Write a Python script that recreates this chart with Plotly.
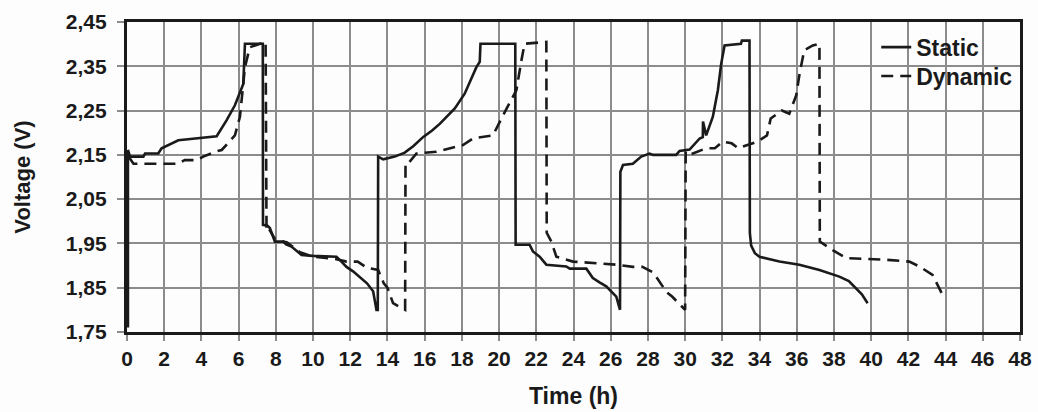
import plotly.graph_objects as go

# ---- data ----
static_t = [0.05, 0.05, 0.16, 0.88, 0.97, 1.68, 1.86, 2.22, 2.76, 4.82, 5.35, 5.8, 6.07, 6.25, 6.34,
            7.30, 7.31, 7.55, 7.68, 7.95, 8.4, 8.55, 8.84, 9.1, 9.38, 10.0, 10.6, 11.26, 11.5, 11.8, 12.15, 12.69,
            12.9, 13.23, 13.41, 13.48, 13.5, 13.77, 14.39, 14.93, 15.4, 15.91, 16.4, 16.81, 17.62,
            18.15, 18.78, 18.96, 19.0, 20.87, 20.89, 21.64, 21.82, 22.18, 22.54, 23.61, 23.8,
            24.69, 25.04, 25.4, 25.76, 26.3, 26.46, 26.5, 26.52, 26.66, 27.19, 27.64, 28.09, 28.27,
            29.52, 29.7, 30.24, 30.78, 30.95, 30.96, 31.13, 31.49, 31.76, 31.94, 32.12, 33.0, 33.05, 33.46,
            33.48, 33.55, 33.75, 34.0, 35.07, 36.14, 37.22, 38.29, 38.8, 39.19, 39.5, 39.81]
static_v = [1.76, 2.161, 2.146, 2.146, 2.153, 2.153, 2.165, 2.172, 2.183, 2.192, 2.228, 2.262, 2.29, 2.31, 2.401,
            2.401, 1.992, 1.99, 1.985, 1.954, 1.954, 1.948, 1.943, 1.933, 1.924, 1.922, 1.921, 1.92, 1.91, 1.897, 1.887, 1.868,
            1.86, 1.842, 1.80, 1.80, 2.146, 2.14, 2.146, 2.155, 2.17, 2.19, 2.205, 2.22, 2.255,
            2.288, 2.348, 2.36, 2.401, 2.401, 1.947, 1.947, 1.932, 1.92, 1.902, 1.898, 1.893,
            1.893, 1.872, 1.862, 1.853, 1.83, 1.80, 1.80, 2.112, 2.127, 2.13, 2.146, 2.153, 2.15,
            2.15, 2.159, 2.162, 2.187, 2.19, 2.225, 2.194, 2.236, 2.296, 2.356, 2.397, 2.401, 2.408, 2.408,
            1.973, 1.945, 1.928, 1.92, 1.909, 1.902, 1.89, 1.875, 1.865, 1.849, 1.835, 1.815]

dynamic_t = [0.1, 0.35, 1.06, 2.1, 2.75, 3.1, 3.74, 4.1, 4.73, 5.09, 5.53, 5.8, 6.07, 6.34, 6.6,
             7.45, 7.5, 7.6, 7.95, 8.6, 9.3, 10.0, 11.2, 11.8, 12.4, 12.9, 13.5, 13.8, 14.0, 14.3, 14.95,
             14.97, 15.1, 15.56, 16.63, 18.06, 18.6, 19.67, 20.21, 20.93, 21.2, 21.37, 22.54,
             22.56, 22.81, 23.08, 23.97, 26.3, 27.2, 27.7, 28.3, 28.6, 29.0, 29.3, 30.0,
             30.03, 30.24, 31.13, 31.6, 32.02, 32.5, 32.85, 33.3, 33.9, 34.4, 34.6, 35.2, 35.6,
             35.97, 36.14, 36.4, 36.86, 37.22, 37.24, 37.93, 38.65, 40.8, 42.05, 42.59, 43.3, 43.93]
dynamic_v = [2.145, 2.13, 2.13, 2.13, 2.13, 2.138, 2.138, 2.146, 2.157, 2.161, 2.18, 2.194, 2.236, 2.348, 2.393,
             2.405, 1.98, 1.985, 1.96, 1.952, 1.93, 1.92, 1.915, 1.909, 1.909, 1.895, 1.89, 1.86, 1.85, 1.815, 1.80,
             2.13, 2.13, 2.153, 2.157, 2.172, 2.187, 2.194, 2.239, 2.296, 2.363, 2.401, 2.405,
             1.974, 1.954, 1.92, 1.909, 1.902, 1.897, 1.897, 1.884, 1.864, 1.84, 1.83, 1.80,
             2.157, 2.15, 2.165, 2.165, 2.18, 2.176, 2.165, 2.172, 2.18, 2.194, 2.232, 2.25, 2.243,
             2.284, 2.33, 2.386, 2.397, 2.401, 1.954, 1.935, 1.917, 1.913, 1.909, 1.898, 1.879, 1.826]

x_ticks = list(range(0, 49, 2))
y_ticks = [1.75, 1.85, 1.95, 2.05, 2.15, 2.25, 2.35, 2.45]

FONT = "Liberation Sans, Arial, sans-serif"
INK = "#1a1a1a"
GRID = "#8c8c8c"

fig = go.Figure()
fig.add_trace(go.Scatter(x=static_t, y=static_v, mode="lines", name="Static",
                         line=dict(color=INK, width=2.6), legend="legend"))
fig.add_trace(go.Scatter(x=dynamic_t, y=dynamic_v, mode="lines", name="Dynamic",
                         line=dict(color=INK, width=2.6, dash="12px,7px"), legend="legend2"))

leg_font = dict(family=FONT, size=23, color=INK, weight="bold")
fig.update_layout(
    width=1038, height=412,
    margin=dict(l=127, r=18, t=22, b=80, autoexpand=False),
    paper_bgcolor="#fdfdfd", plot_bgcolor="#fdfdfd",
    separators=",.",
    font=dict(family=FONT, color=INK, size=21, weight="bold"),
    showlegend=True,
    legend=dict(x=0.839, xanchor="left", y=0.988, yanchor="top",
                bgcolor="rgba(0,0,0,0)", borderwidth=0, font=leg_font),
    legend2=dict(x=0.839, xanchor="left", y=0.895, yanchor="top",
                 bgcolor="rgba(0,0,0,0)", borderwidth=0, font=leg_font),
)

fig.update_xaxes(range=[0, 48], tickvals=x_ticks, ticktext=[str(v) for v in x_ticks],
                 showgrid=True, gridcolor=GRID, gridwidth=1.6,
                 showline=True, linecolor=INK, linewidth=3.2, mirror=True,
                 ticks="outside", ticklen=6, tickwidth=1.6, tickcolor=GRID,
                 zeroline=False,
                 tickfont=dict(family=FONT, size=21, color=INK, weight="bold"),
                 title=dict(text="Time (h)", font=dict(family=FONT, size=23, color=INK, weight="bold"),
                            standoff=19))
fig.update_yaxes(range=[1.75, 2.45], tickvals=y_ticks, tickformat=".2f",
                 showgrid=True, gridcolor=GRID, gridwidth=1.6,
                 showline=True, linecolor=INK, linewidth=3.2, mirror=True,
                 ticks="outside", ticklen=7, tickwidth=1.6, tickcolor=GRID,
                 zeroline=False, ticklabelstandoff=6,
                 tickfont=dict(family=FONT, size=21, color=INK, weight="bold"),
                 title=dict(text="Voltage (V)", font=dict(family=FONT, size=22, color=INK, weight="bold"),
                            standoff=30))

# remove the page's default 8px body margin so the 1038x412 figure fills the window exactly
fig.write_html("out.html",
               config={"displayModeBar": False},
               post_script="document.body.style.margin='0';document.body.style.overflow='hidden';")
